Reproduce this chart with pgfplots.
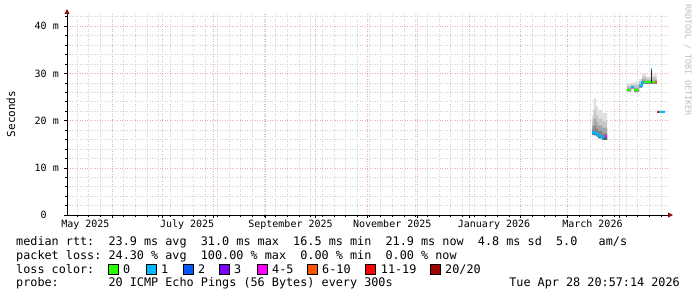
\documentclass[border=0pt]{standalone}
\usepackage{pgfplots}
\pgfplotsset{compat=1.18}
\usepackage{fontspec}
\setmainfont{DejaVu Sans Mono}
\setmonofont{DejaVu Sans Mono}
\usetikzlibrary{arrows.meta}
\definecolor{lc0}{HTML}{26FF00}
\definecolor{lc1}{HTML}{00B8FF}
\definecolor{lc2}{HTML}{0059FF}
\definecolor{lc3}{HTML}{7E00FF}
\definecolor{lc4}{HTML}{FF00FF}
\definecolor{lc6}{HTML}{FF5500}
\definecolor{lc11}{HTML}{FF0000}
\definecolor{lc20}{HTML}{A10000}
\definecolor{majgrid}{RGB}{238,170,170}
\definecolor{mingrid}{RGB}{210,210,210}
\definecolor{arrowred}{RGB}{140,20,20}
\begin{document}
\begin{tikzpicture}
\useasboundingbox[fill=white] (0bp,0bp) rectangle (697bp,297bp);
\begin{axis}[
  at={(67bp,82bp)}, anchor=south west,
  scale only axis, width=601bp, height=202bp,
  xmin=-27, xmax=333.3, ymin=0, ymax=42.8,
  axis x line=bottom, axis y line=left,
  axis line style={black, line width=0.9bp},
  x axis line style={shorten >=-5bp, -{Triangle[length=5bp,width=5bp,color=arrowred]}},
  y axis line style={shorten >=-4bp, -{Triangle[length=5bp,width=5bp,color=arrowred]}},
  xtick={0,30,61,92,122,153,183,214,245,273,304},
  xticklabels={},
  minor xtick={-21,-14,...,329},
  extra x ticks={-16,45,107,168,229,288},
  extra x tick labels={May 2025,July 2025,September 2025,November 2025,January 2026,March 2026},
  extra x tick style={grid=none, major tick length=0pt},
  xticklabel style={anchor=base, yshift=-13bp, inner sep=0pt},
  ytick={0,10,20,30,40},
  yticklabels={0\phantom{ m},10 m,20 m,30 m,40 m},
  minor ytick={2,4,...,42},
  yticklabel style={anchor=east, inner sep=0pt, xshift=-5bp},
  grid=both,
  major grid style={majgrid, line width=0.6bp, dash pattern=on 1bp off 1.5bp},
  minor grid style={mingrid, line width=0.6bp, dash pattern=on 1bp off 1.5bp},
  tick align=outside,
  major tick length=3bp, minor tick length=2bp,
  tick style={black, line width=0.6bp},
  ticklabel style={font=\fontsize{10bp}{12bp}\selectfont, text=black},
  unbounded coords=jump,
  clip=false,
]
% ---- smoke, cluster 1
\addplot[fill=black!12, draw=none] coordinates {(287.8,17.1) (288.7,17.1) (288.7,16.9) (290.2,16.9) (290.2,16.7) (291.4,16.7) (291.4,16.3) (293.8,16.3) (293.8,15.9) (296.8,15.9) (296.8,21.6) (293.8,21.6) (293.8,22.2) (291.4,22.2) (291.4,23.1) (290.2,23.1) (290.2,24.7) (288.7,24.7) (288.7,21.2) (287.8,21.2)} -- cycle;
\addplot[fill=black!22, draw=none] coordinates {(287.8,17.1) (288.7,17.1) (288.7,16.9) (290.2,16.9) (290.2,16.7) (291.4,16.7) (291.4,16.3) (293.8,16.3) (293.8,15.9) (296.8,15.9) (296.8,19.9) (293.8,19.9) (293.8,20.4) (291.4,20.4) (291.4,21.2) (290.2,21.2) (290.2,22.4) (288.7,22.4) (288.7,20.0) (287.8,20.0)} -- cycle;
\addplot[fill=black!35, draw=none] coordinates {(287.8,17.1) (288.7,17.1) (288.7,16.9) (290.2,16.9) (290.2,16.7) (291.4,16.7) (291.4,16.3) (293.8,16.3) (293.8,15.9) (296.8,15.9) (296.8,18.5) (293.8,18.5) (293.8,19.0) (291.4,19.0) (291.4,19.6) (290.2,19.6) (290.2,20.4) (288.7,20.4) (288.7,19.0) (287.8,19.0)} -- cycle;
\addplot[fill=black!48, draw=none] coordinates {(287.8,17.1) (288.7,17.1) (288.7,16.9) (290.2,16.9) (290.2,16.7) (291.4,16.7) (291.4,16.3) (293.8,16.3) (293.8,15.9) (296.8,15.9) (296.8,17.3) (293.8,17.3) (293.8,17.8) (291.4,17.8) (291.4,18.3) (290.2,18.3) (290.2,18.9) (288.7,18.9) (288.7,18.1) (287.8,18.1)} -- cycle;
\addplot[fill=black!62, draw=none] coordinates {(287.8,17.1) (288.7,17.1) (288.7,16.9) (290.2,16.9) (290.2,16.7) (291.4,16.7) (291.4,16.3) (293.8,16.3) (293.8,15.9) (296.8,15.9) (296.8,16.5) (293.8,16.5) (293.8,16.9) (291.4,16.9) (291.4,17.3) (290.2,17.3) (290.2,17.7) (288.7,17.7) (288.7,17.5) (287.8,17.5)} -- cycle;
% ---- smoke, cluster 2
\addplot[fill=black!12, draw=none] coordinates {(308.8,26.2) (311.2,26.2) (311.2,26.8) (313.0,26.8) (313.0,26.1) (316.0,26.1) (316.0,27.0) (317.8,27.0) (317.8,27.8) (323.1,27.8) (323.1,27.9) (323.7,27.9) (323.7,27.8) (326.4,27.8) (326.4,29.8) (323.7,29.8) (323.7,29.5) (323.1,29.5) (323.1,29.3) (320.2,29.3) (320.2,30.0) (317.8,30.0) (317.8,28.8) (316.0,28.8) (316.0,28.2) (313.0,28.2) (313.0,28.0) (311.2,28.0) (311.2,27.9) (308.8,27.9)} -- cycle;
\addplot[fill=black!22, draw=none] coordinates {(308.8,26.2) (311.2,26.2) (311.2,26.8) (313.0,26.8) (313.0,26.1) (316.0,26.1) (316.0,27.0) (317.8,27.0) (317.8,27.8) (323.1,27.8) (323.1,27.9) (323.7,27.9) (323.7,27.8) (326.4,27.8) (326.4,29.2) (323.7,29.2) (323.7,29.0) (323.1,29.0) (323.1,28.9) (320.2,28.9) (320.2,29.3) (317.8,29.3) (317.8,28.3) (316.0,28.3) (316.0,27.6) (313.0,27.6) (313.0,27.6) (311.2,27.6) (311.2,27.4) (308.8,27.4)} -- cycle;
\addplot[fill=black!35, draw=none] coordinates {(308.8,26.2) (311.2,26.2) (311.2,26.8) (313.0,26.8) (313.0,26.1) (316.0,26.1) (316.0,27.0) (317.8,27.0) (317.8,27.8) (323.1,27.8) (323.1,27.9) (323.7,27.9) (323.7,27.8) (326.4,27.8) (326.4,28.7) (323.7,28.7) (323.7,28.6) (323.1,28.6) (323.1,28.5) (320.2,28.5) (320.2,28.8) (317.8,28.8) (317.8,27.8) (316.0,27.8) (316.0,27.0) (313.0,27.0) (313.0,27.3) (311.2,27.3) (311.2,27.0) (308.8,27.0)} -- cycle;
\addplot[fill=black!48, draw=none] coordinates {(308.8,26.2) (311.2,26.2) (311.2,26.8) (313.0,26.8) (313.0,26.1) (316.0,26.1) (316.0,27.0) (317.8,27.0) (317.8,27.8) (323.1,27.8) (323.1,27.9) (323.7,27.9) (323.7,27.8) (326.4,27.8) (326.4,28.3) (323.7,28.3) (323.7,28.3) (323.1,28.3) (323.1,28.2) (320.2,28.2) (320.2,28.4) (317.8,28.4) (317.8,27.5) (316.0,27.5) (316.0,26.6) (313.0,26.6) (313.0,27.1) (311.2,27.1) (311.2,26.6) (308.8,26.6)} -- cycle;
% ---- smoke, cluster 3
\addplot[fill=black!12, draw=none] coordinates {(327.1,21.7) (331.5,21.7) (331.5,22.3) (327.1,22.3)} -- cycle;
\addplot[fill=black!30, draw=none] coordinates {(327.1,21.7) (331.5,21.7) (331.5,22.0) (327.1,22.0)} -- cycle;
% ---- spike
\addplot[fill=black!85, draw=none] coordinates {(323.1,28.0) (323.8,28.0) (323.8,30.9) (323.1,30.9)} -- cycle;
% ---- median rtt, coloured by loss
\addplot[lc1, line width=2bp] coordinates {(287.8,17.6) (288.7,17.6) (288.7,17.3) (290.2,17.3) (290.2,17.1) (291.4,17.1) (291.4,16.7) (293.8,16.7) (293.8,16.4) (294.8,16.4) (294.8,nan) (311.2,27.2) (313.0,27.2) (313.0,nan) (316.0,27.4) (317.8,27.4) (317.8,28.1) (319.0,28.1) (319.0,nan) (323.0,31.0) (323.9,31.0) (323.9,nan) (327.9,21.9) (331.5,21.9)};
\addplot[lc2, line width=2bp] coordinates {(294.8,16.4) (295.8,16.4)};
\addplot[lc4, line width=2bp] coordinates {(295.8,16.8) (296.8,16.8)};
\addplot[lc0, line width=2bp] coordinates {(308.8,26.5) (311.2,26.5) (311.2,nan) (313.0,26.4) (316.0,26.4) (316.0,nan) (319.0,28.1) (323.1,28.1) (323.1,nan) (323.8,28.1) (325.5,28.1)};
\addplot[lc6, line width=2bp] coordinates {(325.5,28.1) (326.4,28.1)};
\addplot[lc11, line width=2bp] coordinates {(326.7,21.8) (327.9,21.8)};
\end{axis}
% y label
\node[rotate=90, font=\fontsize{11bp}{13bp}\selectfont] at (11bp,183bp) {Seconds};
% watermark
\node[rotate=-90, anchor=west, inner sep=0pt, text=black!25, font=\fontsize{8.4bp}{10bp}\selectfont] at (688bp,293bp) {RRDTOOL / TOBI OETIKER};
% legend
\begin{scope}[every node/.style={anchor=base west, inner sep=0pt, font=\fontsize{11.8bp}{14bp}\selectfont}]
\node at (16bp,51.5bp) {median~rtt:~~23.9~ms~avg~~31.0~ms~max~~16.5~ms~min~~21.9~ms~now~~4.8~ms~sd~~5.0~~~am/s};
\node at (16bp,38bp) {packet~loss:~24.30~\%~avg~~100.00~\%~max~~0.00~\%~min~~0.00~\%~now};
\node at (16bp,24bp) {loss~color:};
\node at (123bp,24bp) {0};
\node at (161bp,24bp) {1};
\node at (198bp,24bp) {2};
\node at (234bp,24bp) {3};
\node at (272bp,24bp) {4-5};
\node at (322bp,24bp) {6-10};
\node at (380.7bp,24bp) {11-19};
\node at (445bp,24bp) {20/20};
\node at (16bp,10.5bp) {probe:~~~~~~~20~ICMP~Echo~Pings~(56~Bytes)~every~300s};
\node[anchor=base east] at (680bp,10.5bp) {Tue~Apr~28~20:57:14~2026};
\end{scope}
\begin{scope}[line width=0.8bp]
\filldraw[fill=lc0, draw=black] (108bp,22.5bp) rectangle ++(10bp,10bp);
\filldraw[fill=lc1, draw=black] (146bp,22.5bp) rectangle ++(10bp,10bp);
\filldraw[fill=lc2, draw=black] (183bp,22.5bp) rectangle ++(10bp,10bp);
\filldraw[fill=lc3, draw=black] (219bp,22.5bp) rectangle ++(10bp,10bp);
\filldraw[fill=lc4, draw=black] (257bp,22.5bp) rectangle ++(10bp,10bp);
\filldraw[fill=lc6, draw=black] (307bp,22.5bp) rectangle ++(10bp,10bp);
\filldraw[fill=lc11, draw=black] (365.7bp,22.5bp) rectangle ++(10bp,10bp);
\filldraw[fill=lc20, draw=black] (430bp,22.5bp) rectangle ++(10bp,10bp);
\end{scope}
\end{tikzpicture}
\end{document}
